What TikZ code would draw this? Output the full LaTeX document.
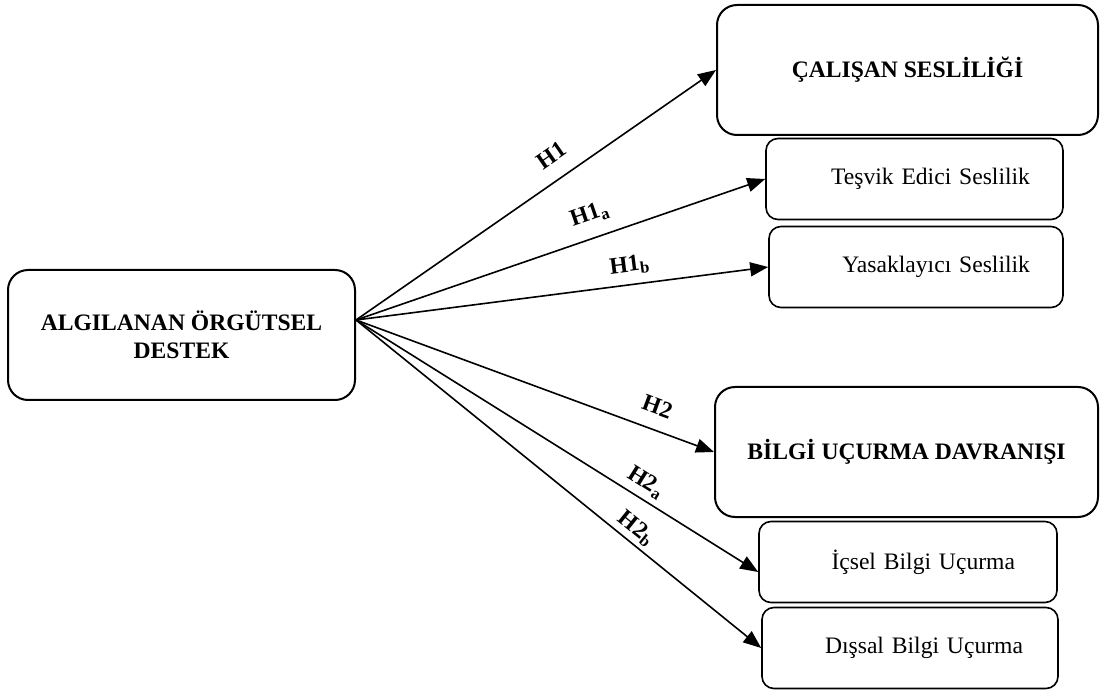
\documentclass[tikz,border=0pt]{standalone}
\usepackage{fontspec}
\setmainfont{Liberation Serif}
\usetikzlibrary{arrows.meta}
\begin{document}
\fontsize{11.8}{14}\selectfont
\begin{tikzpicture}[x=0.5pt,y=-0.5pt,
    mainbox/.style={draw,line width=1pt,rounded corners=10pt,align=center,
        font=\bfseries,minimum height=65pt},
    subbox/.style={draw,line width=0.8pt,rounded corners=6pt,align=right,
        inner xsep=0pt,minimum height=40.5pt},
    hyp/.style={-{Triangle[length=9pt,width=7pt]},line width=0.8pt},
    hlabel/.style={sloped,font=\bfseries,inner sep=1pt}]
    \useasboundingbox (0,0) rectangle (1100,690);
    % boxes
    \node[mainbox,minimum width=173.5pt] (src) at (181.5,335) {ALGILANAN ÖRGÜTSEL\\DESTEK};
    \node[mainbox,minimum width=190.5pt] (voice) at (907.5,70) {ÇALIŞAN SESLİLİĞİ};
    \node[subbox,minimum width=148.5pt,text width=115.5pt] (prom) at (914.5,179) {Teşvik Edici Seslilik};
    \node[subbox,minimum width=147pt,text width=114pt] (prohib) at (916,267) {Yasaklayıcı Seslilik};
    \node[mainbox,minimum width=191.5pt] (whistle) at (906.5,452) {BİLGİ UÇURMA DAVRANIŞI};
    \node[subbox,minimum width=149pt,text width=107pt] (inner) at (908,562) {İçsel Bilgi Uçurma};
    \node[subbox,minimum width=148pt,text width=113pt] (outer) at (910,648) {Dışsal Bilgi Uçurma};
    % hypotheses
    \coordinate (hub) at ([yshift=7.5pt]src.east);
    \draw[hyp] (hub) -- (voice.west) node[hlabel,pos=0.58,above=6.8pt] {H1};
    \draw[hyp] (hub) -- (prom.west) node[hlabel,pos=0.59,above=5.5pt] {H1\textsubscript{a}};
    \draw[hyp] (hub) -- (prohib.west) node[hlabel,pos=0.67,above=3.2pt] {H1\textsubscript{b}};
    \draw[hyp] (hub) -- (whistle.west) node[hlabel,pos=0.82,above=6.2pt] {H2};
    \draw[hyp] (hub) -- ([yshift=-5pt]inner.west) node[hlabel,pos=0.70,above=1.9pt] {H2\textsubscript{a}};
    \draw[hyp] (hub) -- (outer.west) node[hlabel,pos=0.67,above=0.8pt] {H2\textsubscript{b}};
\end{tikzpicture}
\end{document}
